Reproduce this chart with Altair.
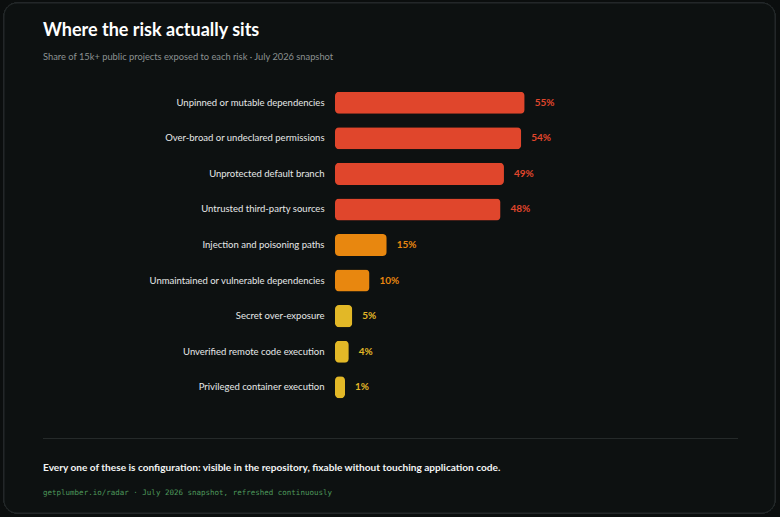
import altair as alt
import pandas as pd

categories = [
    "Unpinned or mutable dependencies",
    "Over-broad or undeclared permissions",
    "Unprotected default branch",
    "Untrusted third-party sources",
    "Injection and poisoning paths",
    "Unmaintained or vulnerable dependencies",
    "Secret over-exposure",
    "Unverified remote code execution",
    "Privileged container execution",
]
values = [55, 54, 49, 48, 15, 10, 5, 4, 1]
tiers = ["high", "high", "high", "high", "mid", "mid", "low", "low", "low"]

tier_domain = ["high", "mid", "low"]
tier_colors = ["#e0462c", "#e8870f", "#e2b827"]
label_colors = ["#dc452d", "#e0850f", "#dcb427"]

title_text = ["Where the risk actually sits"]
subtitle_text = ["Share of 15k+ public projects exposed to each risk · July 2026 snapshot"]
footer_text = ["Every one of these is configuration: visible in the repository, fixable without touching application code."]
source_text = ["getplumber.io/radar · July 2026 snapshot, refreshed continuously"]

df = pd.DataFrame({"category": categories, "value": values, "tier": tiers})
df["label"] = df["value"].astype(str) + "%"

W, H = 400, 320
LEFT, TOP = 335, 85
RIGHT = 780 - LEFT - W
BOTTOM = 517 - TOP - H

FONT = "Lato"

y_enc = alt.Y(
    "category:N",
    sort=categories,
    scale=alt.Scale(paddingInner=0.38, paddingOuter=0.19),
    axis=alt.Axis(
        title=None, domain=False, ticks=False, labelPadding=11, zindex=2,
        labelColor="#e6e8e8", labelFont=FONT, labelFontSize=9.5, labelLimit=300,
    ),
)
x_scale = alt.Scale(domain=[0, 116], nice=False)

base = alt.Chart(df)

card = base.mark_rect(
    fill="#0d1111", stroke="#24292a", strokeWidth=1, cornerRadius=13
).encode(
    x=alt.value(4 - LEFT), x2=alt.value(775 - LEFT),
    y=alt.value(3 - TOP), y2=alt.value(513 - TOP),
)

bars = base.transform_calculate(
    shown="max(datum.value, 2.9)"
).mark_bar(cornerRadius=4).encode(
    y=y_enc,
    x=alt.X("shown:Q", scale=x_scale, axis=None),
    color=alt.Color("tier:N", scale=alt.Scale(domain=tier_domain, range=tier_colors), legend=None),
)

labels = base.transform_calculate(
    shown="max(datum.value, 2.9)"
).mark_text(
    align="left", baseline="middle", dx=10, font=FONT, fontSize=10, fontWeight="bold"
).encode(
    y=alt.Y("category:N", sort=categories),
    x=alt.X("shown:Q", scale=x_scale),
    text="label:N",
    color=alt.Color("tier:N", scale=alt.Scale(domain=tier_domain, range=label_colors), legend=None),
)

rule = base.mark_rule(color="#252a2a", strokeWidth=1).encode(
    x=alt.value(43 - LEFT), x2=alt.value(738 - LEFT), y=alt.value(438.5 - TOP)
)


def text_layer(lines, x, y, **kw):
    return alt.Chart(pd.DataFrame({"t": lines})).mark_text(
        align="left", baseline="alphabetic", **kw
    ).encode(x=alt.value(x - LEFT), y=alt.value(y - TOP), text="t:N")


title = text_layer(title_text, 43, 36, font=FONT, fontSize=18, fontWeight="bold", color="#ffffff")
subtitle = text_layer(subtitle_text, 43, 59.5, font=FONT, fontSize=9.3, color="#8c9292")
footer = text_layer(footer_text, 43, 470.5, font=FONT, fontSize=10.1, fontWeight="bold", color="#f2f4f4")
source = text_layer(source_text, 43, 495, font="DejaVu Sans Mono", fontSize=7.5, color="#4e9a5c")

chart = alt.layer(card, rule, bars, labels, title, subtitle, footer, source).properties(
    width=W, height=H,
    autosize=alt.AutoSizeParams(type="none"),
    padding={"left": LEFT, "top": TOP, "right": RIGHT, "bottom": BOTTOM},
    background="#0b0e0e",
).configure_view(stroke=None)

chart.save("out.html", embed_options={"renderer": "svg", "actions": False})
